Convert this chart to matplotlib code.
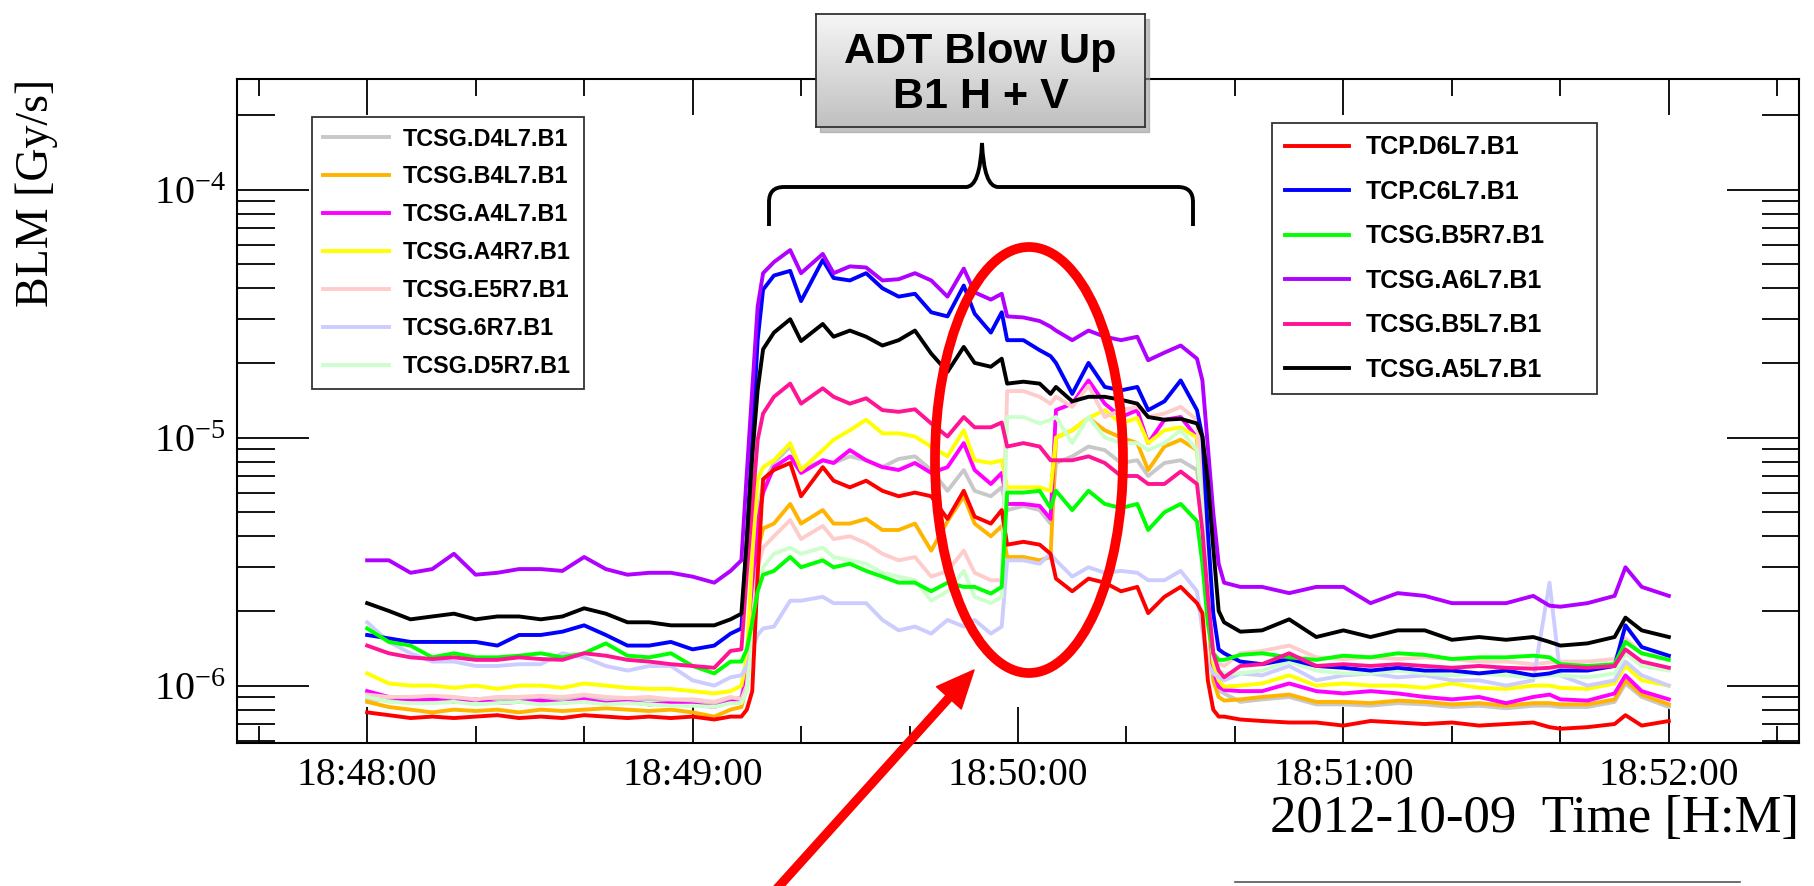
import numpy as np
import matplotlib
matplotlib.use("Agg")
import matplotlib.pyplot as plt
import matplotlib.dates as mdates
from matplotlib.colors import LinearSegmentedColormap
from matplotlib.lines import Line2D
from matplotlib.patches import Ellipse, Rectangle, FancyArrowPatch, PathPatch
from matplotlib.path import Path
from matplotlib.ticker import LogLocator, NullFormatter

plt.rcParams["font.family"] = ["Liberation Serif", "DejaVu Serif"]

W, H = 1814, 886

# seconds after 18:48:00 on 2012-10-09
SECONDS = [
    0, 4, 8, 12, 16, 20, 24, 28, 32, 36, 40, 44, 48, 52, 56, 60, 64, 67,
    69, 70, 71, 72, 73, 75, 78,
    80, 84, 86, 89, 92, 95, 98, 101, 104, 107, 110, 112, 115, 117,
    118, 121, 124, 126, 127, 130, 133, 136, 139, 142, 144, 147, 150, 153,
    154, 155, 156, 157, 158,
    161, 165, 170, 175, 180, 185, 190, 195, 200, 205, 210, 215, 218, 220, 225, 230, 232, 235, 240,
]

# BLM signals in 1e-6 Gy/s
D4L7 = [0.88, 0.87, 0.88, 0.89, 0.88, 0.87, 0.88, 0.87, 0.89, 0.88, 0.9, 0.88, 0.87, 0.88, 0.87, 0.86, 0.85, 0.87,
        0.9, 1.2, 2.5, 5.0, 6.5, 7.9, 9.2,
        7.4, 8.1, 7.9, 8.4, 8.1, 7.6, 8.2, 8.4, 7.4, 6.1, 7.4, 6.1, 5.8, 6.3,
        5.1, 5.3, 5.1, 4.5, 7.9, 8.4, 9.2, 8.9, 7.9, 8.1, 7.0, 7.9, 8.1, 7.4,
        5.0, 2.3, 1.23, 0.96, 0.93,
        0.86, 0.88, 0.9, 0.84, 0.84, 0.83, 0.85, 0.84, 0.82, 0.83, 0.81, 0.83, 0.83, 0.82, 0.82, 0.86, 1.02, 0.9, 0.82]
B4L7 = [0.86, 0.82, 0.8, 0.78, 0.8, 0.79, 0.8, 0.78, 0.8, 0.79, 0.8, 0.81, 0.8, 0.79, 0.8, 0.78, 0.75, 0.8,
        0.82, 1.0, 2.0, 3.5, 4.3, 4.5, 5.4,
        4.5, 5.1, 4.5, 4.5, 4.7, 4.24, 4.24, 4.5, 3.5, 4.6, 5.8, 4.5, 4.0, 4.4,
        3.3, 3.3, 3.2, 3.3, 10, 10.7, 12, 10.7, 10, 9.5, 7.4, 9.2, 9.8, 8.9,
        5.0, 1.96, 1.05, 0.9, 0.87,
        0.88, 0.9, 0.92, 0.86, 0.86, 0.85, 0.87, 0.86, 0.84, 0.85, 0.83, 0.85, 0.85, 0.84, 0.84, 0.88, 1.05, 0.92, 0.84]
A4L7 = [0.95, 0.9, 0.87, 0.88, 0.86, 0.88, 0.85, 0.86, 0.87, 0.85, 0.88, 0.85, 0.86, 0.84, 0.85, 0.84, 0.82, 0.86,
        0.88, 1.1, 2.2, 4.5, 6.0, 7.6, 8.4,
        7.2, 8.1, 7.9, 8.9, 8.1, 7.6, 7.4, 7.9, 7.2, 7.6, 9.5, 7.4, 6.5, 7.2,
        5.4, 5.4, 5.3, 4.7, 12.9, 13.7, 17, 13.7, 12.1, 12.9, 9.5, 11.8, 12.1, 10,
        5.8, 2.3, 1.15, 0.99, 0.96,
        0.95, 0.95, 1.02, 0.95, 0.93, 0.95, 0.93, 0.9, 0.88, 0.9, 0.85, 0.9, 0.92, 0.88, 0.87, 0.93, 1.1, 0.95, 0.88]
A4R7 = [1.12, 1.02, 1.0, 1.0, 0.98, 1.0, 0.97, 1.0, 1.0, 0.98, 1.02, 1.0, 0.98, 0.97, 0.97, 0.95, 0.93, 0.95,
        1.0, 1.3, 3.3, 6.8, 7.6, 8.1, 9.5,
        7.4, 8.9, 9.8, 10.7, 11.8, 10.4, 10.4, 10.1, 9.2, 8.4, 10.7, 8.1, 7.9, 8.1,
        6.3, 6.3, 6.3, 6.1, 10, 10.7, 12, 12.9, 11.4, 12, 9.5, 10.7, 11, 10,
        5.8, 2.3, 1.23, 1.05, 0.99,
        1.0, 1.02, 1.1, 1.0, 1.02, 1.0, 1.0, 0.98, 1.02, 0.98, 0.97, 1.0, 1.0, 0.98, 0.97, 1.02, 1.2, 1.05, 1.0]
E5R7 = [0.92, 0.9, 0.9, 0.91, 0.9, 0.88, 0.9, 0.9, 0.91, 0.9, 0.92, 0.9, 0.89, 0.9, 0.88, 0.88, 0.86, 0.9,
        0.88, 1.0, 1.8, 3.0, 3.6, 4.0, 4.65,
        3.9, 4.4, 3.9, 4.0, 3.75, 3.4, 3.2, 3.3, 2.75, 2.9, 3.5, 2.85, 2.66, 2.66,
        15.4, 15.4, 14.6, 13.7, 14.6, 13.3, 16.2, 12.1, 12.9, 13.3, 12.1, 12.5, 13.3, 11.8,
        5.8, 2.3, 1.35, 1.23, 1.2,
        1.35, 1.38, 1.45, 1.3, 1.28, 1.3, 1.28, 1.3, 1.28, 1.25, 1.25, 1.22, 1.24, 1.25, 1.25, 1.28, 1.55, 1.35, 1.3]
R6_7 = [1.8, 1.5, 1.35, 1.25, 1.25, 1.2, 1.2, 1.22, 1.22, 1.35, 1.3, 1.2, 1.15, 1.2, 1.2, 1.05, 1.0, 1.08,
        1.1, 1.2, 1.4, 1.6, 1.7, 1.73, 2.2,
        2.2, 2.28, 2.15, 2.15, 2.15, 1.84, 1.67, 1.73, 1.62, 1.84, 1.73, 1.84, 1.62, 1.73,
        3.2, 3.2, 3.1, 3.4, 3.2, 2.75, 3.0, 2.85, 2.9, 2.85, 2.66, 2.66, 2.9, 2.4,
        1.67, 1.23, 1.12, 1.08, 1.05,
        1.12, 1.1, 1.2, 1.05, 1.1, 1.12, 1.08, 1.1, 1.05, 1.05, 1.0, 1.05, 2.6, 1.1, 1.0, 1.05, 1.25, 1.1, 1.0]
D5R7 = [0.9, 0.86, 0.85, 0.85, 0.86, 0.84, 0.85, 0.86, 0.84, 0.85, 0.86, 0.84, 0.85, 0.84, 0.83, 0.83, 0.82, 0.85,
        0.85, 0.95, 1.5, 2.5, 3.0, 3.4, 3.6,
        3.4, 3.6, 3.3, 3.2, 3.1, 2.85, 2.75, 2.66, 2.2, 2.4, 2.9, 2.28, 2.15, 2.28,
        12.1, 12.1, 11.4, 11.8, 12.1, 9.5, 12.1, 10, 9.5, 9.5, 8.9, 9.5, 10.7, 8.9,
        5.0, 2.15, 1.3, 1.15, 1.12,
        1.12, 1.15, 1.25, 1.15, 1.12, 1.12, 1.15, 1.12, 1.1, 1.12, 1.1, 1.08, 1.1, 1.1, 1.08, 1.12, 1.35, 1.2, 1.15]
D6L7 = [0.78, 0.76, 0.74, 0.75, 0.74, 0.75, 0.76, 0.74, 0.75, 0.74, 0.76, 0.75, 0.74, 0.75, 0.74, 0.75, 0.73, 0.75,
        0.75, 0.8, 0.95, 2.8, 6.8, 7.4, 7.9,
        5.8, 7.6, 6.7, 6.3, 6.7, 6.1, 5.8, 6.0, 5.8, 4.7, 6.1, 4.8, 4.5, 5.1,
        3.7, 3.8, 3.7, 3.4, 2.7, 2.4, 2.7, 2.6, 2.4, 2.5, 1.96, 2.28, 2.5, 2.15,
        1.96, 1.05, 0.8, 0.75, 0.75,
        0.73, 0.72, 0.71, 0.71, 0.69, 0.72, 0.71, 0.7, 0.71, 0.69, 0.7, 0.71, 0.68, 0.67, 0.68, 0.7, 0.76, 0.69, 0.72]
C6L7 = [1.6, 1.55, 1.5, 1.5, 1.5, 1.5, 1.45, 1.6, 1.6, 1.65, 1.75, 1.6, 1.45, 1.45, 1.5, 1.4, 1.45, 1.62,
        1.7, 3.86, 9.8, 24.8, 39.5, 45, 47,
        35.5, 52, 44, 43, 46, 40, 37, 38, 32, 30.8, 41, 31.6, 26.5, 32,
        24.7, 24.7, 22.5, 21.3, 20, 15, 20, 16, 15.5, 16, 12.9, 14, 17, 12.9,
        10.1, 4.2, 1.96, 1.4, 1.35,
        1.25, 1.22, 1.28, 1.2, 1.18, 1.15, 1.18, 1.15, 1.15, 1.12, 1.15, 1.1, 1.12, 1.15, 1.15, 1.2, 1.75, 1.43, 1.32]
B5R7 = [1.7, 1.5, 1.45, 1.3, 1.35, 1.3, 1.3, 1.32, 1.35, 1.3, 1.35, 1.48, 1.32, 1.3, 1.35, 1.2, 1.12, 1.25,
        1.25, 1.4, 1.8, 2.4, 2.8, 2.9, 3.3,
        3.0, 3.2, 3.0, 3.1, 2.9, 2.75, 2.6, 2.6, 2.4, 2.6, 2.5, 2.5, 2.35, 2.5,
        6.0, 6.0, 6.1, 5.2, 6.1, 5.1, 6.1, 5.4, 5.2, 5.4, 4.24, 5.0, 5.4, 4.6,
        3.1, 1.78, 1.35, 1.27, 1.27,
        1.33, 1.35, 1.3, 1.27, 1.32, 1.3, 1.35, 1.33, 1.28, 1.3, 1.3, 1.32, 1.3, 1.22, 1.2, 1.22, 1.5, 1.35, 1.27]
A6L7 = [3.2, 3.2, 2.85, 2.95, 3.4, 2.8, 2.85, 2.95, 2.95, 2.9, 3.3, 2.95, 2.8, 2.85, 2.85, 2.75, 2.6, 2.9,
        3.2, 7.2, 15.6, 33.8, 46, 51, 57,
        46, 55, 46, 49, 48.5, 43, 43.5, 46, 43, 37, 48, 38.5, 36, 38,
        30.8, 30.5, 29.5, 28, 27, 24.7, 27, 25.5, 24.7, 25.5, 20.5, 22, 23.5, 20.8,
        17, 9.2, 5.0, 3.1, 2.6,
        2.5, 2.5, 2.36, 2.5, 2.5, 2.15, 2.36, 2.3, 2.15, 2.15, 2.15, 2.3, 2.1, 2.08, 2.15, 2.3, 3.0, 2.5, 2.3]
B5L7 = [1.45, 1.35, 1.3, 1.28, 1.3, 1.27, 1.27, 1.3, 1.28, 1.27, 1.35, 1.32, 1.27, 1.25, 1.22, 1.2, 1.18, 1.38,
        1.4, 2.84, 5.27, 9.8, 12.5, 14.6, 16.5,
        13.7, 15.8, 14.6, 13.7, 14.4, 12.9, 12.7, 13, 11.4, 10.1, 12.1, 11, 11, 11.5,
        9.2, 9.5, 9.2, 8.1, 8.1, 8.1, 8.4, 7.9, 7.0, 7.0, 6.5, 6.5, 7.3, 6.5,
        4.2, 2.3, 1.35, 1.15, 1.08,
        1.2, 1.22, 1.35, 1.2, 1.22, 1.2, 1.22, 1.2, 1.18, 1.2, 1.18, 1.17, 1.18, 1.2, 1.18, 1.2, 1.4, 1.25, 1.18]
A5L7 = [2.15, 2.0, 1.85, 1.9, 1.95, 1.85, 1.9, 1.9, 1.85, 1.9, 2.05, 1.95, 1.8, 1.8, 1.75, 1.75, 1.75, 1.85,
        1.95, 3.86, 8.4, 15.6, 22.7, 26.5, 30,
        24.5, 28.7, 25.5, 27, 25.5, 23.5, 24.7, 27, 21.8, 18.4, 23.2, 20, 19.3, 20.8,
        16.5, 16.8, 16.5, 15, 16, 14, 14.6, 14.6, 14.2, 13.7, 12.1, 11.8, 11.9, 11.4,
        10.1, 6.7, 3.6, 2.0, 1.8,
        1.65, 1.67, 1.85, 1.57, 1.67, 1.57, 1.67, 1.67, 1.53, 1.57, 1.53, 1.57, 1.5, 1.45, 1.48, 1.57, 1.88, 1.67, 1.57]

LEFT_SERIES = [
    ("TCSG.D4L7.B1", "#c8c8c8", D4L7),
    ("TCSG.B4L7.B1", "#ffb400", B4L7),
    ("TCSG.A4L7.B1", "#ff00ff", A4L7),
    ("TCSG.A4R7.B1", "#ffff00", A4R7),
    ("TCSG.E5R7.B1", "#ffcccc", E5R7),
    ("TCSG.6R7.B1", "#ccccff", R6_7),
    ("TCSG.D5R7.B1", "#ccffcc", D5R7),
]
RIGHT_SERIES = [
    ("TCP.D6L7.B1", "#ff0000", D6L7),
    ("TCP.C6L7.B1", "#0000ff", C6L7),
    ("TCSG.B5R7.B1", "#00ff00", B5R7),
    ("TCSG.A6L7.B1", "#b000ff", A6L7),
    ("TCSG.B5L7.B1", "#ff1493", B5L7),
    ("TCSG.A5L7.B1", "#000000", A5L7),
]


def fpx(x, y):
    # reference pixel (from top-left) -> figure fraction
    return x / W, 1 - y / H


t0 = np.datetime64("2012-10-09T18:48:00")
times = t0 + np.array(SECONDS) * np.timedelta64(1, "s")

fig = plt.figure(figsize=(W / 100, H / 100), dpi=100)
ax = fig.add_axes([237 / W, 1 - 743 / H, (1799 - 237) / W, (743 - 79) / H])

left_lines, right_lines = [], []
for label, color, vals in LEFT_SERIES:
    ln, = ax.plot(times, np.array(vals) * 1e-6, color=color, lw=2.8, label=label)
    left_lines.append(ln)
for label, color, vals in RIGHT_SERIES:
    ln, = ax.plot(times, np.array(vals) * 1e-6, color=color, lw=2.8, label=label)
    right_lines.append(ln)

ax.set_yscale("log")
ax.set_ylim(5.87e-7, 2.79e-4)
ax.set_xlim(t0 - np.timedelta64(24, "s"), t0 + np.timedelta64(264, "s"))

ax.xaxis.set_major_locator(mdates.MinuteLocator())
ax.xaxis.set_minor_locator(mdates.SecondLocator(bysecond=[20, 40]))
ax.xaxis.set_major_formatter(mdates.DateFormatter("%H:%M:%S"))
ax.yaxis.set_major_locator(LogLocator(base=10))
ax.yaxis.set_minor_locator(LogLocator(base=10, subs=np.arange(2, 10)))
ax.yaxis.set_minor_formatter(NullFormatter())

ax.tick_params(axis="x", which="major", direction="in", length=26, width=1.3,
               top=True, bottom=True, labelsize=28.5, pad=10)
ax.tick_params(axis="x", which="minor", direction="in", length=12.5, width=1.3,
               top=True, bottom=True)
ax.tick_params(axis="y", which="major", direction="in", length=52, width=1.3,
               left=True, right=True, labelsize=29, pad=8)
ax.tick_params(axis="y", which="minor", direction="in", length=27, width=1.3,
               left=True, right=True)
for sp in ax.spines.values():
    sp.set_linewidth(1.5)

fig.text(*fpx(37, 79), "BLM [Gy/s]", rotation=90, ha="center", va="top", fontsize=33)
fig.text(*fpx(1799, 819), "2012-10-09  Time [H:M]", ha="right", va="center", fontsize=38)

leg_font = dict(family="Liberation Sans", weight="bold")
leg1 = ax.legend(handles=left_lines, loc="upper left",
                 bbox_to_anchor=(312 / W, 1 - 383 / H, 272 / W, 266 / H),
                 bbox_transform=fig.transFigure, mode="expand", borderaxespad=0,
                 prop=dict(size=16.8, **leg_font), handlelength=2.87, handletextpad=0.55,
                 labelspacing=0.64, borderpad=0.45, fancybox=False, framealpha=1,
                 edgecolor="#333333")
leg1.get_frame().set_linewidth(1.3)
ax.add_artist(leg1)
leg2 = ax.legend(handles=right_lines, loc="upper left",
                 bbox_to_anchor=(1272 / W, 1 - 388 / H, 325 / W, 265 / H),
                 bbox_transform=fig.transFigure, mode="expand", borderaxespad=0,
                 prop=dict(size=18, **leg_font), handlelength=2.56, handletextpad=0.68,
                 labelspacing=0.82, borderpad=0.5, fancybox=False, framealpha=1,
                 edgecolor="#333333")
leg2.get_frame().set_linewidth(1.3)

# annotation box with shadow and grey gradient
bx0, by0, bx1, by1 = 816, 14, 1145, 127
shadow = Rectangle(fpx(bx0 + 4, by1 + 5), (bx1 - bx0) / W, (by1 - by0) / H,
                   transform=fig.transFigure, color="#9a9a9a", alpha=0.6, zorder=4)
fig.add_artist(shadow)
box = fig.add_axes([bx0 / W, 1 - by1 / H, (bx1 - bx0) / W, (by1 - by0) / H])
box.set_zorder(5)
grad = np.linspace(0, 1, 256).reshape(-1, 1)
box.imshow(grad, aspect="auto", extent=[0, 1, 0, 1], origin="upper",
           cmap=LinearSegmentedColormap.from_list("boxgrad", ["#f6f6f6", "#c0c0c0"]))
box.set_xticks([])
box.set_yticks([])
for sp in box.spines.values():
    sp.set_color("#333333")
    sp.set_linewidth(1.3)
box.text(0.5, (by1 - 52) / (by1 - by0), "ADT Blow Up", ha="center", va="center",
         fontsize=31, family="Liberation Sans", weight="bold", transform=box.transAxes)
box.text(0.5, (by1 - 97) / (by1 - by0), "B1 H + V", ha="center", va="center",
         fontsize=31, family="Liberation Sans", weight="bold", transform=box.transAxes)

# curly brace over the blow-up window
brace_pts = [(769, 226), (769, 202), (769, 187), (784, 187), (966, 187), (980, 187),
             (982, 143), (984, 187), (998, 187), (1178, 187), (1193, 187), (1193, 202),
             (1193, 226)]
codes = [Path.MOVETO, Path.LINETO, Path.CURVE3, Path.CURVE3, Path.LINETO, Path.CURVE3,
         Path.CURVE3, Path.CURVE3, Path.CURVE3, Path.LINETO, Path.CURVE3, Path.CURVE3,
         Path.LINETO]
brace = PathPatch(Path([fpx(x, y) for x, y in brace_pts], codes), transform=fig.transFigure,
                  fill=False, lw=2.8, color="black", zorder=6)
fig.add_artist(brace)

# red ellipse and arrow
ell = Ellipse(fpx(1029, 460), 188 / W, 426 / H, transform=fig.transFigure,
              fill=False, ec="#ff0000", lw=7, zorder=6)
fig.add_artist(ell)
arrow = FancyArrowPatch(fpx(773, 893), fpx(974, 670), transform=fig.transFigure,
                        arrowstyle="simple,head_length=1.35,head_width=1.2,tail_width=0.28",
                        mutation_scale=20, color="#ff0000", shrinkA=0, shrinkB=0, zorder=6)
fig.add_artist(arrow)

fig.add_artist(Line2D([1235 / W, 1740 / W], [1 - 882 / H] * 2, transform=fig.transFigure,
                      color="#555555", lw=1.2))

fig.savefig("out.png", dpi=100)
